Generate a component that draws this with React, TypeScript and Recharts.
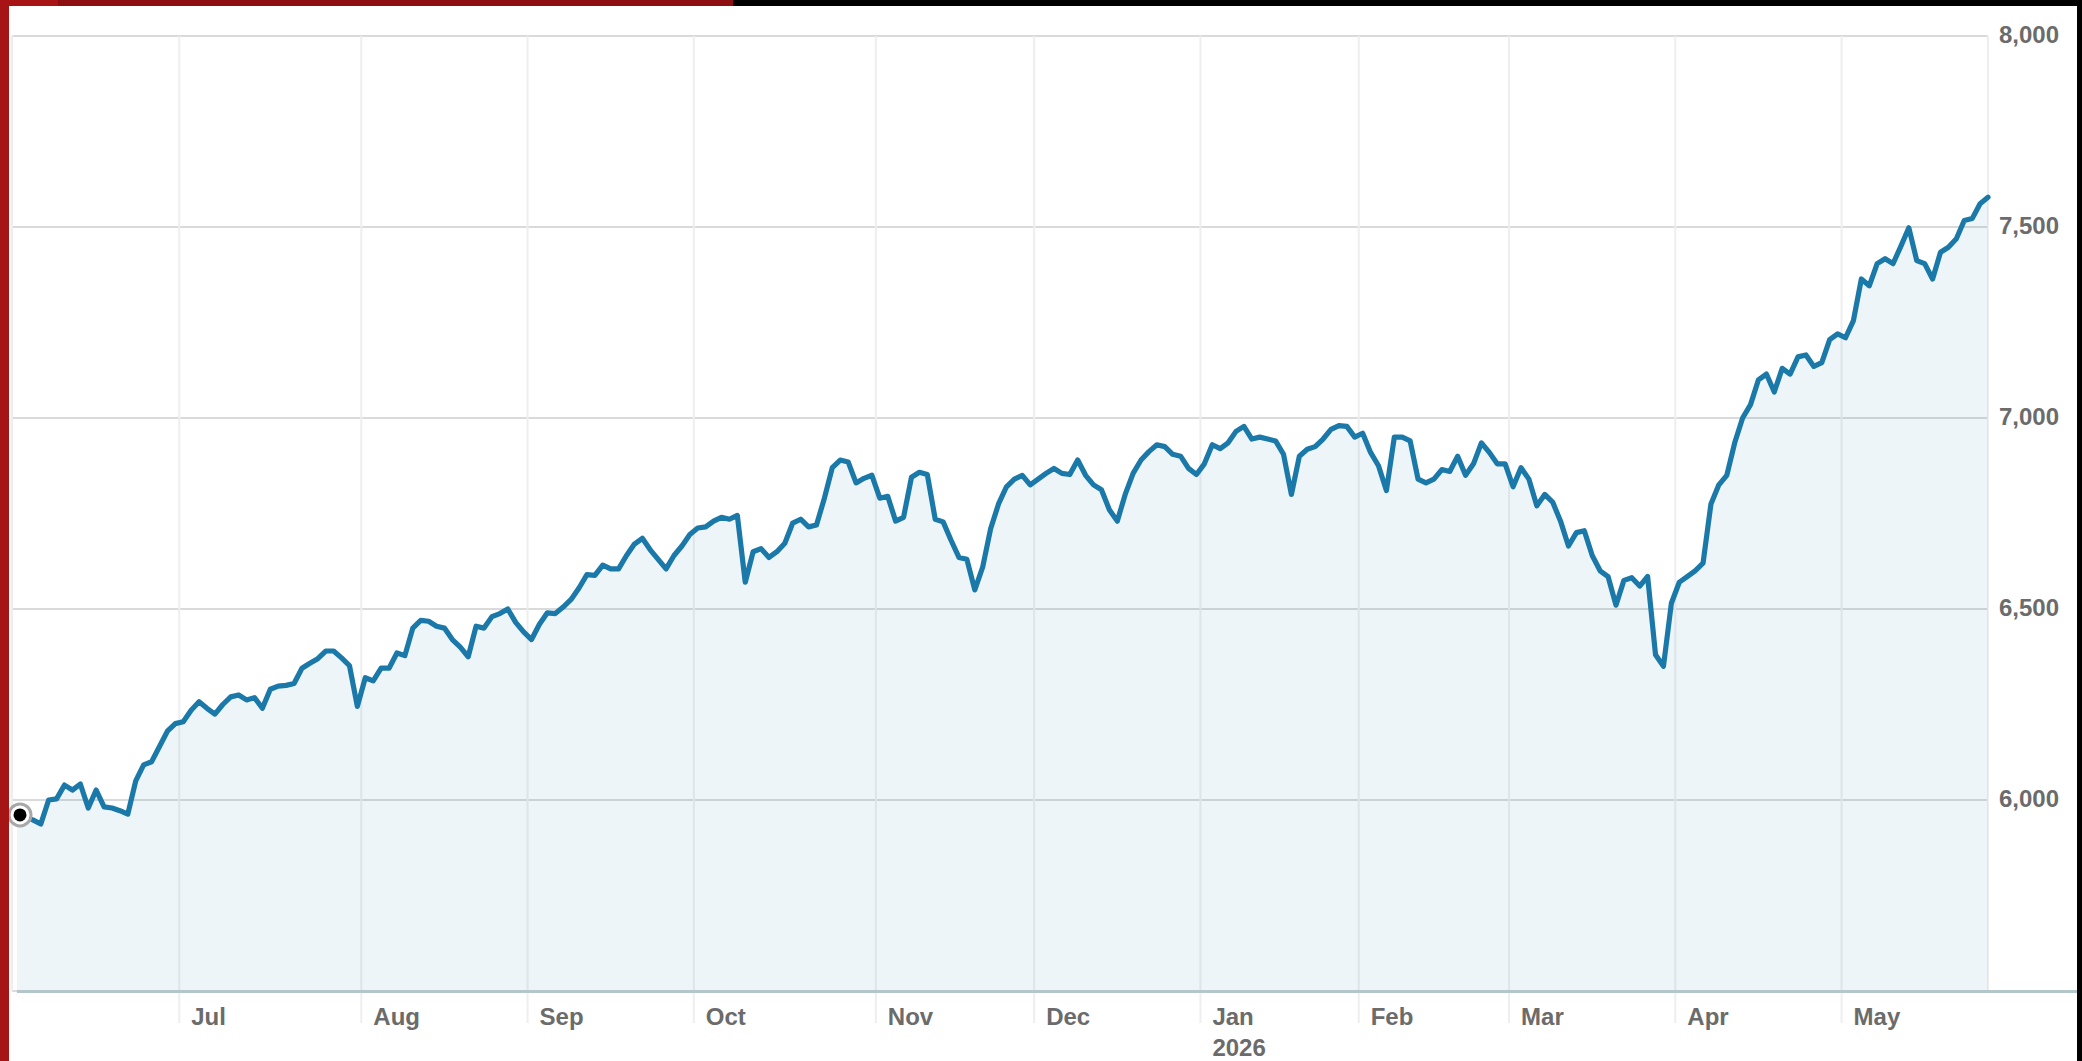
import React from 'react';
import { AreaChart, Area, XAxis, YAxis, CartesianGrid } from 'recharts';

// Month labels for the x axis (first month has no label)
const monthLabels = ['Jun', 'Jul', 'Aug', 'Sep', 'Oct', 'Nov', 'Dec', 'Jan', 'Feb', 'Mar', 'Apr', 'May'];
const yearLabelMonth = 'Jan';
const yearLabel = '2026';

// Daily closes, grouped by month
const junVals = [5961, 5955, 5948, 5937, 6000, 6003, 6039, 6026, 6042, 5979, 6026, 5982, 5979, 5972, 5963, 6050, 6092, 6100, 6140, 6180, 6200];
const julVals = [6205, 6235, 6257, 6240, 6225, 6250, 6270, 6275, 6262, 6268, 6240, 6290, 6298, 6300, 6305, 6345, 6358, 6370, 6390, 6390, 6372, 6352, 6245];
const augVals = [6320, 6312, 6345, 6345, 6385, 6378, 6450, 6470, 6468, 6455, 6450, 6420, 6400, 6375, 6455, 6450, 6480, 6488, 6500, 6465, 6440];
const sepVals = [6420, 6460, 6490, 6488, 6505, 6525, 6555, 6590, 6588, 6615, 6605, 6605, 6640, 6670, 6685, 6655, 6630, 6605, 6640, 6665, 6695];
const octVals = [6712, 6715, 6730, 6740, 6735, 6745, 6570, 6650, 6658, 6635, 6650, 6672, 6725, 6735, 6715, 6720, 6790, 6870, 6890, 6885, 6830, 6842, 6850];
const novVals = [6790, 6795, 6730, 6740, 6845, 6858, 6852, 6735, 6728, 6680, 6635, 6630, 6550, 6610, 6710, 6775, 6820, 6840, 6850, 6825];
const decVals = [6840, 6855, 6868, 6855, 6852, 6890, 6850, 6825, 6812, 6760, 6730, 6800, 6855, 6890, 6912, 6930, 6925, 6905, 6900, 6868, 6852];
const janVals = [6880, 6930, 6920, 6935, 6965, 6978, 6945, 6950, 6945, 6940, 6905, 6800, 6900, 6918, 6925, 6945, 6970, 6980, 6978, 6950];
const febVals = [6960, 6910, 6875, 6810, 6950, 6950, 6940, 6840, 6830, 6840, 6865, 6860, 6900, 6850, 6880, 6935, 6910, 6880, 6880];
const marVals = [6820, 6870, 6840, 6770, 6800, 6780, 6730, 6665, 6700, 6705, 6640, 6600, 6585, 6510, 6575, 6582, 6560, 6585, 6380, 6350, 6515];
const aprVals = [6570, 6585, 6600, 6620, 6775, 6825, 6850, 6935, 7000, 7035, 7100, 7115, 7068, 7130, 7115, 7160, 7165, 7135, 7145, 7205, 7220];
const mayVals = [7210, 7255, 7364, 7346, 7404, 7417, 7404, 7450, 7498, 7412, 7404, 7364, 7434, 7447, 7469, 7517, 7522, 7561, 7578];

const monthSeries = [junVals, julVals, augVals, sepVals, octVals, novVals, decVals, janVals, febVals, marVals, aprVals, mayVals];

const yTicks = [6000, 6500, 7000, 7500, 8000];
const yDomain: [number, number] = [5500, 8000];

// Build the chart table
const data: { i: number; v: number }[] = [];
const monthTicks: number[] = [];
const tickLabel: Record<string, string> = {};
{
  let idx = 0;
  monthSeries.forEach((vals, m) => {
    if (m > 0) {
      const t = idx - 0.5;
      monthTicks.push(t);
      tickLabel[String(t)] = monthLabels[m];
    }
    vals.forEach((v) => {
      data.push({ i: idx, v });
      idx += 1;
    });
  });
}
const lastIndex = data.length - 1;

const LINE = '#1b79a9';
const FONT = '"Liberation Sans", Arial, Helvetica, sans-serif';
const TEXT = '#6b6b6b';

const YTick = (props: any) => {
  const { x, y, payload } = props;
  return (
    <text x={x} y={y} dy={7} textAnchor="start" fontFamily={FONT} fontSize={24} fontWeight={700} fill={TEXT}>
      {Number(payload.value).toLocaleString('en-US')}
    </text>
  );
};

const XTick = (props: any) => {
  const { x, y, payload } = props;
  const label = tickLabel[String(payload.value)] || '';
  return (
    <g>
      <text x={x + 12} y={y + 2} textAnchor="start" fontFamily={FONT} fontSize={24} fontWeight={700} fill={TEXT}>
        {label}
      </text>
      {label === yearLabelMonth ? (
        <text x={x + 12} y={y + 33} textAnchor="start" fontFamily={FONT} fontSize={24} fontWeight={700} fill={TEXT}>
          {yearLabel}
        </text>
      ) : null}
    </g>
  );
};

const renderDot = (props: any) => {
  const { cx, cy, index } = props;
  if (index !== 0) return <g key={`d${index}`} />;
  return (
    <g key="marker">
      <circle cx={cx + 3} cy={cy} r={11} fill="#ffffff" stroke="#a8a8a8" strokeWidth={3} />
      <circle cx={cx + 3} cy={cy} r={6.5} fill="#000000" />
    </g>
  );
};

export default function App() {
  return (
    <div style={{ position: 'absolute', left: 0, top: 0, width: 2082, height: 1061, background: '#ffffff', overflow: 'hidden' }}>
      <AreaChart width={2082} height={1061} data={data} margin={{ top: 36, right: 0, left: 12, bottom: 0 }}>
        <CartesianGrid horizontal={true} vertical={false} stroke="#dadada" strokeWidth={2} />
        <CartesianGrid horizontal={false} vertical={true} stroke="#eeeeee" strokeWidth={2} />
        <XAxis
          dataKey="i"
          type="number"
          domain={[0, lastIndex]}
          ticks={monthTicks}
          interval={0}
          padding={{ left: 5, right: 0 }}
          height={70}
          axisLine={false}
          tickLine={{ stroke: '#eeeeee', strokeWidth: 2 }}
          tickSize={32}
          tickMargin={0}
          tick={<XTick />}
        />
        <YAxis
          orientation="right"
          width={94}
          domain={yDomain}
          ticks={yTicks}
          interval={0}
          axisLine={false}
          tickLine={false}
          tickSize={0}
          tickMargin={11}
          tick={<YTick />}
        />
        <Area
          type="linear"
          dataKey="v"
          stroke={LINE}
          strokeWidth={5.2}
          strokeLinejoin="round"
          strokeLinecap="round"
          fill={LINE}
          fillOpacity={0.075}
          dot={renderDot}
          activeDot={false}
          isAnimationActive={false}
        />
      </AreaChart>
      {/* bottom axis line */}
      <div style={{ position: 'absolute', left: 17, top: 990, width: 2060, height: 3, background: '#b3c6c9' }} />
      {/* frame decorations */}
      <div style={{ position: 'absolute', left: 0, top: 0, width: 9, height: 1061, background: '#a51515' }} />
      <div style={{ position: 'absolute', left: 0, top: 0, width: 2082, height: 6, background: '#000000' }} />
      <div style={{ position: 'absolute', left: 0, top: 0, width: 733, height: 6, background: '#8e0f12' }} />
      <div style={{ position: 'absolute', left: 0, top: 0, width: 58, height: 6, background: '#a81416' }} />
      <div style={{ position: 'absolute', left: 2077, top: 0, width: 5, height: 1061, background: '#000000' }} />
    </div>
  );
}
